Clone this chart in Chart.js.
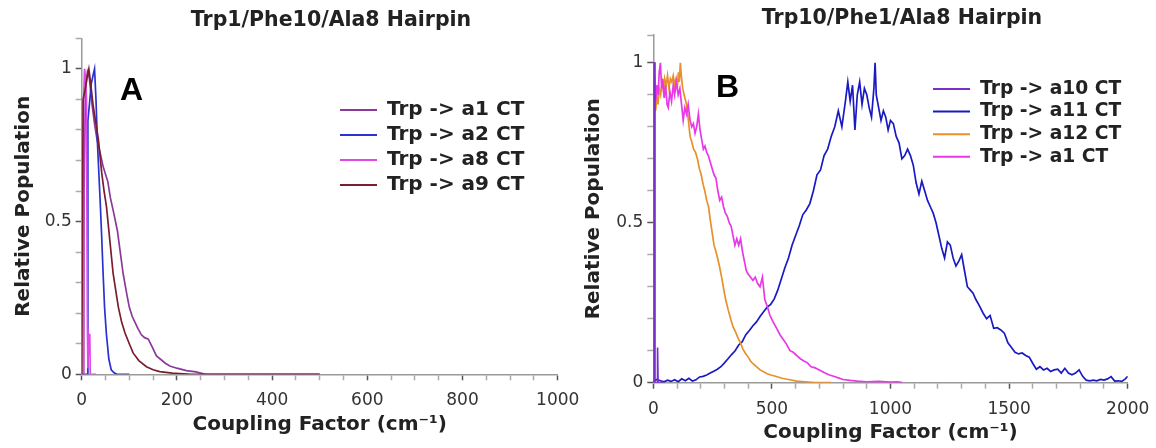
<!DOCTYPE html>
<html>
<head>
<meta charset="utf-8">
<script src="https://cdn.jsdelivr.net/npm/chart.js@4.4.1/dist/chart.umd.min.js"></script>
<style>
  body { margin: 0; background: #fff; }
  .panel { position: absolute; top: 0; height: 448px; }
</style>
</head>
<body>
<div class="panel" style="left:0;width:580px"><canvas id="chartA" width="580" height="448"></canvas></div>
<div class="panel" style="left:580px;width:576px"><canvas id="chartB" width="576" height="448"></canvas></div>
<script>
// ---- Panel A: Trp1/Phe10/Ala8 hairpin ----
const a_a1_x = [0, 4, 5, 8, 12, 16, 22, 27, 32, 38, 45, 50, 55, 60, 67, 75, 81, 87, 95, 100,
    106, 112, 118, 125, 132, 140, 148, 157, 165, 175, 185, 200, 220, 240, 260, 300, 400, 500];
const a_a1_y = [0, 0, 0.6, 0.93, 0.99, 0.97, 0.88, 0.82, 0.77, 0.73, 0.68, 0.655, 0.63, 0.58, 0.53, 0.47, 0.40, 0.33, 0.26, 0.22,
    0.19, 0.17, 0.15, 0.13, 0.12, 0.115, 0.09, 0.06, 0.05, 0.037, 0.027, 0.02, 0.012, 0.008, 0, 0, 0, 0];

const a_a2_x = [0, 12, 13, 16, 20, 24, 27, 30, 33, 36, 39, 42, 45, 48, 52, 57, 62, 68, 74, 100];
const a_a2_y = [0, 0, 0.83, 0.88, 0.95, 0.98, 1.0, 0.9, 0.76, 0.66, 0.56, 0.45, 0.33, 0.22, 0.13, 0.05, 0.015, 0.005, 0, 0];

const a_a8_x = [0, 3, 4, 6, 8, 10, 12, 13, 15, 17, 18, 30];
const a_a8_y = [0, 0, 0.9, 1.0, 0.97, 0.9, 0.15, 0.02, 0.13, 0.13, 0, 0];

const a_a9_x = [0, 3, 7, 11, 15, 19, 24, 30, 35, 42, 47, 52, 59, 66, 72, 77, 84, 91, 100, 108,
    120, 136, 150, 164, 190, 230, 300, 400, 500];
const a_a9_y = [0, 0.9, 0.93, 0.97, 1.0, 0.95, 0.88, 0.82, 0.77, 0.66, 0.6, 0.55, 0.44, 0.33, 0.27, 0.22, 0.17, 0.135, 0.1, 0.07,
    0.045, 0.025, 0.015, 0.009, 0.004, 0, 0, 0, 0];

// ---- Panel B: Trp10/Phe1/Ala8 hairpin ----
const b_a10_x = [0, 0.5, 6, 7, 16, 17, 19, 20, 40];
const b_a10_y = [0, 1.0, 1.0, 0, 0, 0.11, 0.11, 0, 0];

const b_a11_x = [0, 15, 30, 45, 60, 75, 90, 105, 120, 135,
    150, 165, 180, 195, 210, 225, 240, 255, 270, 285,
    300, 315, 330, 345, 360, 375, 390, 405, 420, 435,
    450, 465, 480, 495, 510, 525, 540, 555, 570, 585,
    600, 615, 630, 645, 660, 675, 690, 705, 720, 735,
    750, 765, 780, 795, 810, 820, 830, 840, 850, 860,
    870, 880, 890, 900, 910, 920, 930, 935, 940, 950,
    960, 970, 980, 990, 1000, 1012, 1024, 1036, 1048, 1060,
    1072, 1084, 1096, 1108, 1120, 1132, 1144, 1156, 1168, 1180,
    1192, 1204, 1216, 1228, 1240, 1252, 1264, 1276, 1288, 1300,
    1312, 1324, 1336, 1348, 1360, 1375, 1390, 1405, 1420, 1435,
    1450, 1465, 1480, 1495, 1510, 1525, 1540, 1555, 1570, 1585,
    1600, 1615, 1630, 1645, 1660, 1675, 1690, 1705, 1720, 1735,
    1750, 1765, 1780, 1795, 1810, 1825, 1840, 1855, 1870, 1885,
    1900, 1915, 1930, 1945, 1960, 1975, 1990, 2000];
const b_a11_y = [0.005, 0.01, 0.006, 0.003, 0.008, 0.004, 0.009, 0.003, 0.012, 0.006,
    0.014, 0.005, 0.009, 0.018, 0.02, 0.024, 0.03, 0.036, 0.042, 0.05,
    0.062, 0.075, 0.088, 0.1, 0.118, 0.128, 0.15, 0.163, 0.178, 0.19,
    0.207, 0.222, 0.236, 0.245, 0.262, 0.29, 0.325, 0.36, 0.39, 0.43,
    0.46, 0.49, 0.525, 0.54, 0.56, 0.6, 0.65, 0.665, 0.71, 0.73,
    0.77, 0.8, 0.85, 0.8, 0.88, 0.94, 0.88, 0.93, 0.79, 0.9,
    0.94, 0.87, 0.92, 0.9, 0.86, 0.83, 0.92, 1.0, 0.9, 0.86,
    0.82, 0.85, 0.83, 0.79, 0.82, 0.81, 0.77, 0.75, 0.7, 0.71,
    0.73, 0.71, 0.68, 0.625, 0.59, 0.63, 0.6, 0.57, 0.55, 0.53,
    0.5, 0.46, 0.42, 0.39, 0.44, 0.43, 0.39, 0.365, 0.38, 0.4,
    0.35, 0.3, 0.29, 0.28, 0.26, 0.24, 0.218, 0.2, 0.21, 0.17,
    0.172, 0.165, 0.155, 0.125, 0.11, 0.095, 0.09, 0.093, 0.085, 0.08,
    0.06, 0.042, 0.05, 0.04, 0.045, 0.035, 0.04, 0.042, 0.03, 0.045,
    0.03, 0.025, 0.03, 0.04, 0.02, 0.008, 0.006, 0.008, 0.006, 0.01,
    0.008, 0.012, 0.019, 0.005, 0.006, 0.004, 0.012, 0.02];

const b_a12_x = [0, 5, 10, 15, 20, 25, 31, 37, 43, 48,
    54, 60, 66, 72, 78, 84, 90, 96, 101, 106,
    110, 114, 118, 124, 130, 140, 148, 155, 163, 170,
    178, 186, 194, 202, 210, 217, 225, 233, 240, 248,
    256, 264, 271, 280, 288, 295, 305, 315, 326, 336,
    346, 357, 367, 378, 388, 400, 410, 419, 435, 450,
    465, 480, 496, 515, 543, 570, 605, 640, 682, 750];
const b_a12_y = [0.83, 0.88, 0.85, 0.9, 0.87, 0.92, 0.9, 0.94, 0.91, 0.95,
    0.93, 0.96, 0.92, 0.95, 0.94, 0.96, 0.93, 0.95, 0.92, 0.97,
    0.94, 1.0, 0.96, 0.92, 0.9, 0.87, 0.82, 0.77, 0.75, 0.73,
    0.72, 0.7, 0.67, 0.65, 0.62, 0.6, 0.57, 0.55, 0.51, 0.47,
    0.43, 0.41, 0.39, 0.36, 0.33, 0.3, 0.26, 0.23, 0.2, 0.175,
    0.16, 0.14, 0.125, 0.105, 0.092, 0.08, 0.068, 0.06, 0.05, 0.04,
    0.034, 0.028, 0.024, 0.02, 0.014, 0.01, 0.005, 0.003, 0, 0];

const b_a1_x = [0, 5, 10, 15, 20, 25, 30, 35, 40, 46,
    52, 58, 63, 70, 77, 84, 90, 97, 105, 112,
    119, 126, 133, 140, 147, 155, 162, 169, 176, 183,
    190, 197, 204, 211, 218, 225, 232, 240, 248, 256,
    264, 272, 280, 288, 296, 304, 312, 320, 328, 336,
    344, 352, 360, 368, 376, 384, 392, 400, 410, 420,
    430, 440, 450, 460, 470, 480, 492, 505, 520, 534,
    548, 562, 576, 590, 605, 620, 635, 650, 665, 680,
    700, 720, 740, 760, 780, 800, 830, 860, 900, 950,
    1000, 1030, 1050];
const b_a1_y = [0.9, 0.96, 0.88, 0.93, 0.9, 0.97, 1.0, 0.92, 0.95, 0.89,
    0.93, 0.87, 0.86, 0.91, 0.88, 0.93, 0.9, 0.94, 0.9, 0.92,
    0.87, 0.82, 0.86, 0.84, 0.87, 0.82, 0.8, 0.81, 0.78, 0.8,
    0.84, 0.79, 0.76, 0.73, 0.74, 0.72, 0.71, 0.69, 0.67, 0.65,
    0.64, 0.6, 0.57, 0.58, 0.55, 0.53, 0.52, 0.5, 0.49, 0.46,
    0.43, 0.45, 0.43, 0.45, 0.41, 0.38, 0.35, 0.34, 0.33, 0.32,
    0.33, 0.31, 0.3, 0.33, 0.26, 0.24, 0.21, 0.19, 0.17, 0.15,
    0.135, 0.12, 0.1, 0.095, 0.085, 0.075, 0.068, 0.062, 0.05, 0.047,
    0.04, 0.032, 0.025, 0.02, 0.015, 0.01, 0.007, 0.005, 0.003, 0.004,
    0.002, 0.003, 0];

// tick labels
const xLabelsA = [0, 200, 400, 600, 800, 1000];
const xLabelsB = [0, 500, 1000, 1500, 2000];
const yTickValues = [0, 0.5, 1];
const yTickLabels = ['0', '0.5', '1'];

Chart.defaults.font.family = '"DejaVu Sans", sans-serif';

const pts = (xs, ys) => xs.map((x, i) => ({x: x, y: ys[i]}));

function line(label, xs, ys, color, order) {
    return {
        label: label,
        data: pts(xs, ys),
        borderColor: color,
        borderWidth: 1.7,
        pointRadius: 0,
        fill: false,
        tension: 0,
        order: order
    };
}

// titles, panel letter and legend drawn inside the plot
const panelText = {
    id: 'panelText',
    afterDraw(chart, args, o) {
        const ctx = chart.ctx;
        ctx.save();
        ctx.fillStyle = '#222';
        ctx.textBaseline = 'alphabetic';
        ctx.textAlign = 'center';
        ctx.font = 'bold 20.5px "DejaVu Sans"';
        ctx.fillText(o.title, o.titleX, o.titleY);

        ctx.textAlign = 'left';
        ctx.fillStyle = '#000';
        ctx.font = 'bold 32px "Liberation Sans"';
        ctx.fillText(o.letter, o.letterX, o.letterY);

        ctx.font = 'bold ' + o.legendFont + 'px "DejaVu Sans"';
        ctx.textBaseline = 'middle';
        chart.data.datasets.forEach((ds, i) => {
            const y = o.legendY + i * o.legendGap;
            ctx.strokeStyle = ds.borderColor;
            ctx.lineWidth = 2;
            ctx.beginPath();
            ctx.moveTo(o.legendX, y);
            ctx.lineTo(o.legendX + 37, y);
            ctx.stroke();
            ctx.fillStyle = '#222';
            ctx.fillText(ds.label, o.legendX + 47, y);
        });
        ctx.restore();
    }
};

function buildScales(c) {
    return {
        x: {
            type: 'linear',
            min: 0,
            max: c.xMax,
            afterFit: s => { s.height = c.xHeight; s.paddingLeft = 0; s.paddingRight = 0; },
            ticks: {
                stepSize: c.xStep,
                autoSkip: false,
                maxRotation: 0,
                padding: c.xTickPad,
                color: '#333',
                font: {size: 17},
                callback: v => c.xLabels.includes(v) ? String(v) : ''
            },
            grid: {
                drawOnChartArea: false,
                tickLength: 6,
                tickWidth: 1.5,
                tickColor: t => (t.tick && t.tick.label) ? '#555' : '#aaa'
            },
            border: {color: '#9a9a9a', width: 1.5},
            title: {
                display: true,
                text: 'Coupling Factor (cm⁻¹)',
                color: '#222',
                font: {size: 20, weight: 'bold'},
                padding: {top: 0, bottom: c.xTitlePad}
            }
        },
        y: {
            type: 'linear',
            min: 0,
            max: c.yMax,
            afterFit: s => { s.width = c.yWidth; s.paddingTop = 0; s.paddingBottom = 0; },
            ticks: {
                stepSize: 0.1,
                autoSkip: false,
                padding: 4,
                color: '#333',
                font: {size: 17},
                callback: v => {
                    const i = yTickValues.findIndex(t => Math.abs(t - v) < 1e-6);
                    return i >= 0 ? yTickLabels[i] : '';
                }
            },
            grid: {
                drawOnChartArea: false,
                tickLength: 6,
                tickWidth: 1.5,
                tickColor: t => (t.tick && t.tick.label) ? '#555' : '#aaa'
            },
            border: {color: '#9a9a9a', width: 1.5},
            title: {
                display: true,
                text: 'Relative Population',
                color: '#222',
                font: {size: 20, weight: 'bold'},
                padding: {top: c.yTitlePad, bottom: 0}
            }
        }
    };
}

function baseOptions(c, text) {
    return {
        responsive: false,
        devicePixelRatio: 1,
        animation: false,
        events: [],
        layout: {padding: c.padding},
        scales: buildScales(c),
        plugins: {
            legend: {display: false},
            title: {display: false},
            tooltip: {enabled: false},
            panelText: text
        }
    };
}

new Chart(document.getElementById('chartA'), {
    type: 'line',
    data: {
        datasets: [
            line('Trp -> a1 CT', a_a1_x, a_a1_y, '#8b3a9a', 4),
            line('Trp -> a2 CT', a_a2_x, a_a2_y, '#2a32d0', 3),
            line('Trp -> a8 CT', a_a8_x, a_a8_y, '#e048e8', 2),
            line('Trp -> a9 CT', a_a9_x, a_a9_y, '#7a1e2e', 1)
        ]
    },
    options: baseOptions({
        xMax: 1000, xStep: 50, xLabels: xLabelsA, yMax: 1.1,
        yWidth: 81.7, xHeight: 73.7, xTickPad: 10, xTitlePad: 11, yTitlePad: 12,
        padding: {left: 0, top: 38.3, right: 22.3, bottom: 0}
    }, {
        title: 'Trp1/Phe10/Ala8 Hairpin', titleX: 331, titleY: 26,
        letter: 'A', letterX: 120, letterY: 100,
        legendX: 340, legendY: 110, legendGap: 25, legendFont: 20
    }),
    plugins: [panelText]
});

new Chart(document.getElementById('chartB'), {
    type: 'line',
    data: {
        datasets: [
            line('Trp -> a10 CT', b_a10_x, b_a10_y, '#7b2fc9', 1),
            line('Trp -> a11 CT', b_a11_x, b_a11_y, '#1a1ac4', 4),
            line('Trp -> a12 CT', b_a12_x, b_a12_y, '#e8902a', 3),
            line('Trp -> a1 CT', b_a1_x, b_a1_y, '#e838e8', 2)
        ]
    },
    options: baseOptions({
        xMax: 2000, xStep: 100, xLabels: xLabelsB, yMax: 1.087,
        yWidth: 73.3, xHeight: 65.3, xTickPad: 11, xTitlePad: 3, yTitlePad: 2,
        padding: {left: 0, top: 35, right: 28.3, bottom: 0}
    }, {
        title: 'Trp10/Phe1/Ala8 Hairpin', titleX: 322, titleY: 24,
        letter: 'B', letterX: 136, letterY: 97,
        legendX: 353, legendY: 89, legendGap: 22.6, legendFont: 18.7
    }),
    plugins: [panelText]
});
</script>
</body>
</html>
